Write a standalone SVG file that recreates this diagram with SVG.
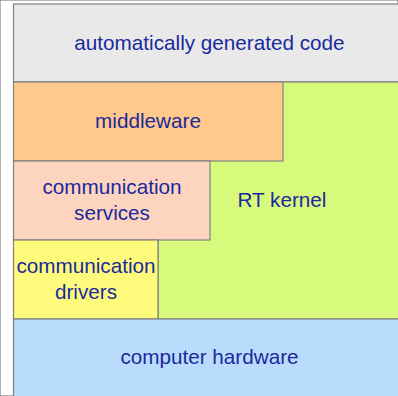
<svg xmlns="http://www.w3.org/2000/svg" width="398" height="396" viewBox="0 0 398 396">
<style>
rect{stroke:#808080;stroke-width:1.2}
text{font-family:"Liberation Sans",Arial,Helvetica,sans-serif;font-size:20.7px;fill:#1a2a9c;text-anchor:middle}
</style>
<rect x="0" y="0" width="398" height="396" fill="#ffffff" stroke="none"/>
<g id="generated-code">
<rect x="13.5" y="4" width="395" height="78" fill="#e9e9e9"/>
<text x="209.5" y="50">automatically generated code</text>
</g>
<g id="rt-kernel">
<rect x="158" y="82" width="250" height="237" fill="#d8fa7c" stroke="#8a9a6a"/>
<text x="282" y="207">RT kernel</text>
</g>
<g id="middleware">
<rect x="13.5" y="82" width="269.5" height="79" fill="#fec98a" stroke="#8c7f70"/>
<text x="148" y="128">middleware</text>
</g>
<g id="comm-services">
<rect x="13.5" y="161" width="196.5" height="79" fill="#fdd4be" stroke="#8c7f70"/>
<text x="112" y="194">communication</text>
<text x="112" y="220">services</text>
</g>
<g id="comm-drivers">
<rect x="13.5" y="240" width="144.5" height="79" fill="#fefa7c" stroke="#7f7f60"/>
<text x="86" y="273">communication</text>
<text x="86" y="299">drivers</text>
</g>
<g id="hardware">
<rect x="13.5" y="319" width="395" height="90" fill="#b9dcfd" stroke="#6a7a8a"/>
<text x="209.5" y="364">computer hardware</text>
</g>
</svg>
